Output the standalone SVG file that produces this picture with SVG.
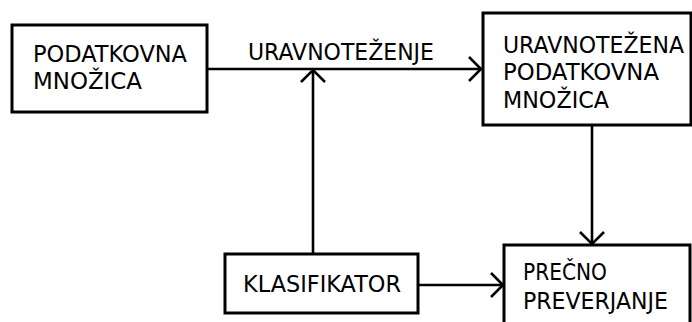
<svg xmlns="http://www.w3.org/2000/svg" width="692" height="322" viewBox="0 0 692 322">
<style>
.box{fill:#fff;stroke:#000;stroke-width:3}
.t{font-family:"DejaVu Sans",sans-serif;font-size:22.5px;fill:#000}
.c{fill:none;stroke:#000;stroke-width:2.6}
</style>
<defs>
<marker id="arr" markerUnits="userSpaceOnUse" markerWidth="30" markerHeight="30" viewBox="-15 -15 30 30" refX="0" refY="0" orient="auto" overflow="visible">
<path d="M-12,-12 L0,0 L-12,12" fill="none" stroke="#000" stroke-width="2.6"/>
</marker>
</defs>
<rect width="692" height="322" fill="#fff"/>
<g id="connectors">
<line class="c" x1="207" y1="69" x2="481" y2="69" marker-end="url(#arr)"/>
<line class="c" x1="313" y1="254" x2="313" y2="70" marker-end="url(#arr)"/>
<line class="c" x1="592" y1="125" x2="592" y2="244" marker-end="url(#arr)"/>
<line class="c" x1="418" y1="285" x2="503" y2="285" marker-end="url(#arr)"/>
<text class="t" x="248" y="60" textLength="186" lengthAdjust="spacingAndGlyphs">URAVNOTEŽENJE</text>
</g>
<g id="podatkovna">
<rect class="box" x="12" y="25" width="195" height="87"/>
<text class="t" x="33" y="62" textLength="154" lengthAdjust="spacingAndGlyphs">PODATKOVNA</text>
<text class="t" x="33" y="89" textLength="109" lengthAdjust="spacingAndGlyphs">MNOŽICA</text>
</g>
<g id="uravnotezena">
<rect class="box" x="483" y="13" width="208" height="112"/>
<text class="t" x="503" y="53" textLength="181" lengthAdjust="spacingAndGlyphs">URAVNOTEŽENA</text>
<text class="t" x="503" y="80" textLength="156" lengthAdjust="spacingAndGlyphs">PODATKOVNA</text>
<text class="t" x="503" y="107.5" textLength="106" lengthAdjust="spacingAndGlyphs">MNOŽICA</text>
</g>
<g id="klasifikator">
<rect class="box" x="225" y="254" width="193" height="59"/>
<text class="t" x="243" y="292" textLength="158" lengthAdjust="spacingAndGlyphs">KLASIFIKATOR</text>
</g>
<g id="precno">
<rect class="box" x="504" y="245" width="186" height="90"/>
<text class="t" x="523" y="280" textLength="84" lengthAdjust="spacingAndGlyphs">PREČNO</text>
<text class="t" x="523" y="308.5" textLength="145" lengthAdjust="spacingAndGlyphs">PREVERJANJE</text>
</g>
</svg>
